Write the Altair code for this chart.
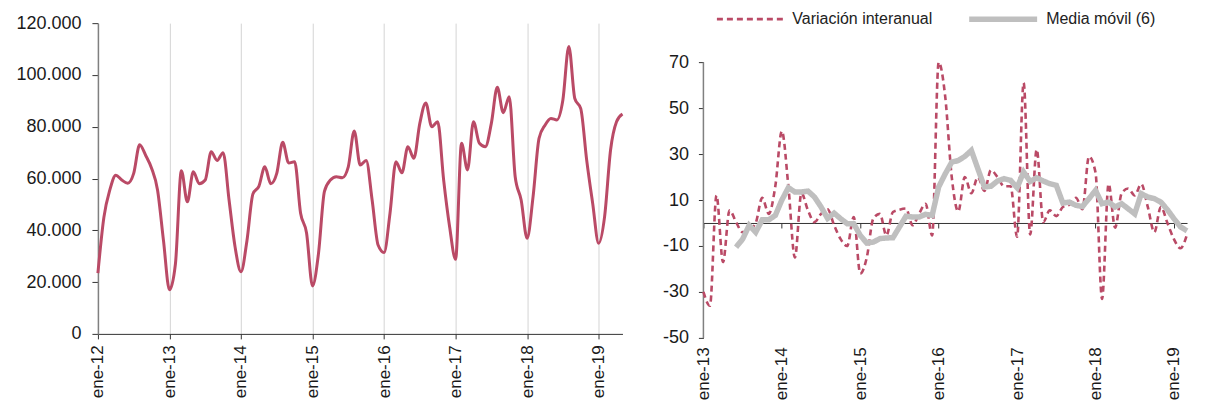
import altair as alt
import pandas as pd

FONT = "Liberation Sans"
ROSA = "#BA4A66"
GRIS = "#BFBFBF"

abrev = ["ene", "feb", "mar", "abr", "may", "jun", "jul", "ago", "sep", "oct", "nov", "dic"]
meses = [f"{m}-{a:02d}" for a in range(12, 20) for m in abrev][:89]  # ene-12 .. may-19
enero_izq = [f"ene-{a:02d}" for a in range(12, 20)]

valores = [
    23500, 45000, 55600, 61300, 59400, 58200, 62000, 73000, 69000, 64000, 55600, 36000,
    17000, 27000, 63000, 51000, 62600, 58000, 59400, 70300, 67000, 70000, 51700, 33700,
    24000, 36000, 54000, 57000, 64500, 58000, 62000, 74000, 66000, 66500, 46600, 39000,
    18500, 31000, 55000, 59400, 60700, 60300, 64500, 78400, 65200, 67000, 51700, 34300,
    31400, 46600, 66500, 62200, 72300, 67800, 81300, 89200, 80000, 81900, 59400, 41400,
    28800, 73600, 63300, 81900, 73600, 72300, 81300, 95200, 85400, 91600, 60700, 51700,
    36900, 53000, 75500, 80600, 83200, 82600, 90300, 111000, 90900, 87000, 67000, 50400,
    35000, 45300, 71000, 81900, 84900,
]

meses_der = meses[12:87]  # ene-13 .. mar-19 (the reference is cut at its right edge)
enero_der = [f"ene-{a:02d}" for a in range(13, 20)]

interanual = [
    -30, -36, 12, -17, 5.5, 0.4, -4, -3, 0, 11, 4, 16,
    40, 16, -15, 13, 5.5, 0.4, 4, 6, -1, -7, -10, 2.6,
    -22, -15, 2, 4, -5.4, 4.8, 5.8, 6.3, -1, 4, 8.4, -5.4,
    70, 55, 20, 5, 20, 13, 20, 14, 23, 20, 16, 16,
    -6, 61, -5, 32, 0.4, 5.5, 3, 7, 8, 11, 6, 29,
    22, -33, 17, -2, 13, 15, 12, 17, 7, -4, 7, 0,
    -7, -11, -5,
]

media = [None] * 5 + [
    -10.5, -7, -1, -4, 1.4, 1.4, 3.3,
    10, 15.4, 13.5, 13.5, 13.9, 11.3, 7, 2, 4.3, 1.9, -0.3, -0.3,
    -5.4, -8.7, -8.3, -6.8, -6.5, -6.4, -1.7, 3, 2.6, 2.6, 3.8, 3.3,
    15.7, 21.4, 26.5, 27.2, 29, 31.6, 23.6, 15.7, 16, 18.3, 19.3, 18.6,
    15.4, 22.2, 18.1, 19.7, 18.3, 17.1, 16.4, 8.7, 9.1, 7.7, 7.2, 10.6,
    14.2, 8.4, 9.1, 7, 8.4, 6.2, 4, 12.8, 11.3, 10.6, 9.1, 5.8,
    1.9, -1.7, -3.4,
]

series = ["Variación interanual", "Media móvil (6)"]
ticks_der = [-50, -30, -10, 10, 30, 50, 70]

assert len(valores) == len(meses)
assert len(interanual) == len(meses_der)
assert len(media) == len(meses_der)

df_izq = pd.DataFrame({"mes": meses, "valor": valores})
df_var = pd.DataFrame({"mes": meses_der, "serie": series[0], "valor": interanual})
df_med = pd.DataFrame({"mes": meses_der, "serie": series[1], "valor": media}).dropna()
df_eje = pd.DataFrame({"mes": [meses_der[0]], "desde": [ticks_der[0]], "hasta": [ticks_der[-1]]})

# ---------- left panel ----------
left = alt.Chart(df_izq).mark_line(color=ROSA, strokeWidth=3, interpolate="monotone").encode(
    x=alt.X(
        "mes:O", sort=meses, title=None,
        scale=alt.Scale(type="point", padding=0, domain=meses),
        axis=alt.Axis(values=enero_izq, labelAngle=270, grid=True, gridColor="#D4D4D4", gridWidth=1,
                      domainColor="#333333", domainWidth=1, ticks=True, tickSize=5, tickColor="#333333",
                      labelPadding=6, labelFontSize=17),
    ),
    y=alt.Y(
        "valor:Q", title=None,
        scale=alt.Scale(domain=[0, 120000], nice=False),
        axis=alt.Axis(values=list(range(0, 120001, 20000)),
                      labelExpr="replace(format(datum.value, ',d'), ',', '.')",
                      grid=False, domainColor="#808080", domainWidth=1.5, tickSize=6,
                      tickColor="#333333", labelPadding=11),
    ),
).properties(width=525, height=311)

# ---------- right panel ----------
xsc = alt.Scale(type="point", padding=0, domain=meses_der)
ysc = alt.Scale(domain=[-50, 87], nice=False)
leg = alt.Legend(title=None, orient="none", legendX=12, legendY=-12, direction="horizontal",
                 symbolType="stroke", symbolSize=4624, clipHeight=16, columnPadding=33,
                 labelOffset=6, labelFont=FONT, labelFontSize=16, labelColor="#222222")
color_enc = alt.Color("serie:N", scale=alt.Scale(domain=series, range=[ROSA, GRIS]), legend=leg)
dash_enc = alt.StrokeDash("serie:N", scale=alt.Scale(domain=series, range=[[6, 4], [1, 0]]), legend=leg)
width_enc = alt.StrokeWidth("serie:N", scale=alt.Scale(domain=series, range=[2.6, 5.5]), legend=leg)

eje_y = alt.Chart(df_eje).mark_rule(color="#808080", strokeWidth=1.5).encode(
    x=alt.X("mes:O", scale=xsc, axis=None),
    y=alt.Y("desde:Q", scale=ysc, axis=None),
    y2="hasta:Q",
)

var_line = alt.Chart(df_var).mark_line(interpolate="monotone").encode(
    x=alt.X("mes:O", sort=meses_der, title=None, scale=xsc,
            axis=alt.Axis(values=enero_der, labelAngle=270, domain=False, ticks=False, grid=False,
                          labelPadding=9, labelFontSize=17)),
    y=alt.Y("valor:Q", title=None, scale=ysc,
            axis=alt.Axis(values=ticks_der, labelExpr="toString(datum.value)",
                          grid=False, domain=False, tickSize=5,
                          tickColor="#333333", labelPadding=10)),
    color=color_enc, strokeDash=dash_enc, strokeWidth=width_enc,
)

med_line = alt.Chart(df_med).mark_line(interpolate="linear").encode(
    x=alt.X("mes:O", sort=meses_der, title=None, scale=xsc,
            axis=alt.Axis(values=enero_der, orient="bottom", offset=-115, labels=False, domain=True,
                          domainColor="#333333", domainWidth=1, ticks=True, tickSize=5,
                          tickColor="#333333", grid=False)),
    y=alt.Y("valor:Q", title=None, scale=ysc, axis=None),
    color=color_enc, strokeDash=dash_enc, strokeWidth=width_enc,
)

right = alt.layer(eje_y, var_line, med_line).resolve_axis(x="independent", y="independent").properties(
    width=484, height=315
)

chart = alt.hconcat(left, right, spacing=33).resolve_legend(
    color="independent", strokeDash="independent", strokeWidth="independent"
).properties(
    padding={"left": 7, "top": 3, "right": 0, "bottom": 0},
    background="white",
).configure_axis(
    labelFont=FONT, labelFontSize=18, labelColor="#1a1a1a",
).configure_view(stroke=None)

chart.save("out.html", embed_options={"renderer": "svg", "actions": False})
